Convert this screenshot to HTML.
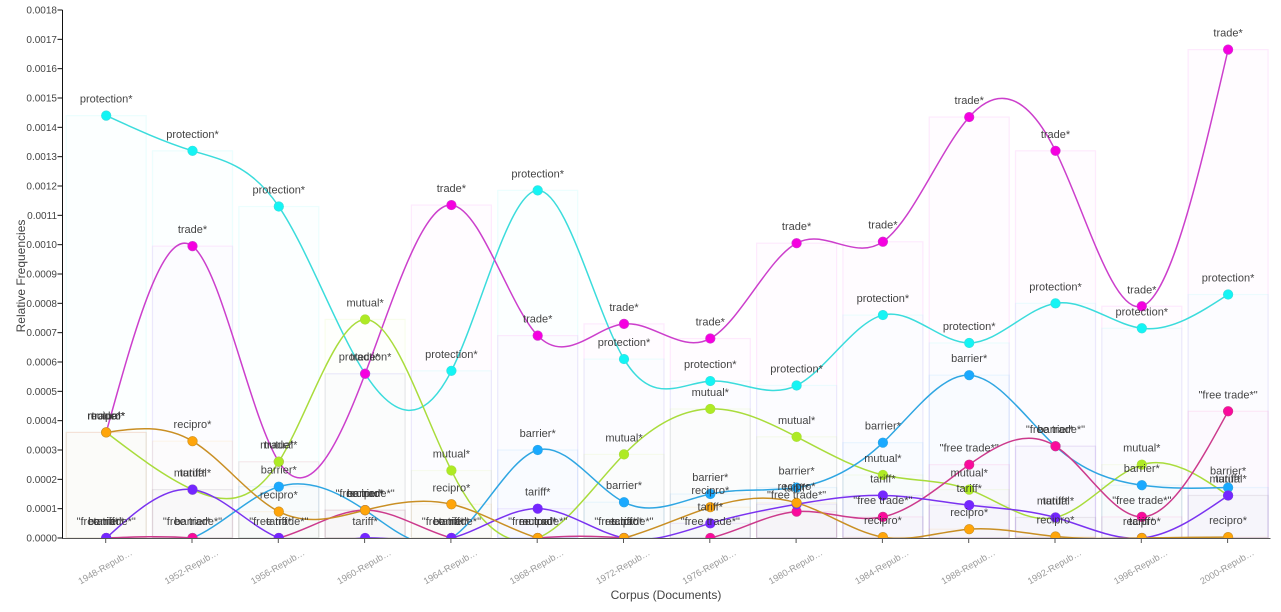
<!DOCTYPE html>
<html>
<head>
<meta charset="utf-8">
<title>Relative Frequencies by Corpus</title>
<style>
html,body{margin:0;padding:0;background:#fff;width:1281px;height:612px;overflow:hidden}
svg{display:block;font-family:"Liberation Sans",sans-serif}
</style>
</head>
<body>
<svg id="chart" width="1281" height="612" viewBox="0 0 1281 612" xmlns="http://www.w3.org/2000/svg">
<defs><clipPath id="plot-clip"><rect x="62" y="0" width="1209" height="538"></rect></clipPath></defs>
<g id="bars" clip-path="url(#plot-clip)"></g>
<g id="lines" clip-path="url(#plot-clip)"></g>
<g id="dots" clip-path="url(#plot-clip)"></g>
<g id="labels"></g>
<g id="axes"></g>
<text x="666" y="599" text-anchor="middle" font-size="12" fill="#444">Corpus (Documents)</text>
<text transform="translate(25,276) rotate(-90)" text-anchor="middle" font-size="12" fill="#444">Relative Frequencies</text>
</svg>
<script>
const categories = ['1948-Repub…','1952-Repub…','1956-Repub…','1960-Repub…','1964-Repub…','1968-Repub…','1972-Repub…','1976-Repub…','1980-Repub…','1984-Repub…','1988-Repub…','1992-Repub…','1996-Repub…','2000-Repub…'];
const yTicks = [0,0.0001,0.0002,0.0003,0.0004,0.0005,0.0006,0.0007,0.0008,0.0009,0.001,0.0011,0.0012,0.0013,0.0014,0.0015,0.0016,0.0017,0.0018];
const protectionValues = [0.00144,0.00132,0.00113,0.00056,0.00057,0.001185,0.00061,0.000535,0.00052,0.00076,0.000665,0.0008,0.000715,0.00083];
const tradeValues = [0.00036,0.000995,0.00026,0.00056,0.001135,0.00069,0.00073,0.00068,0.001005,0.00101,0.001435,0.00132,0.00079,0.001665];
const mutualValues = [0.00036,0.000165,0.00026,0.000745,0.00023,0,0.000285,0.00044,0.000345,0.000215,0.000165,0.00007,0.00025,0.000145];
const barrierValues = [0,0,0.000175,0.000095,0,0.0003,0.000122,0.00015,0.000172,0.000325,0.000555,0.000313,0.00018,0.000172];
const freeTradeValues = [0,0,0,0.000095,0,0,0,0,0.00009,0.000072,0.00025,0.000313,0.000072,0.000432];
const tariffValues = [0,0.000165,0,0,0,0.0001,0,0.00005,0.000115,0.000145,0.000112,0.00007,0,0.000145];
const reciproValues = [0.00036,0.00033,0.00009,0.000095,0.000115,0,0,0.000105,0.00012,0.000003,0.00003,0.000005,0,0.000003];

const seriesList = [
  {key:'protection', label:'protection*', values:protectionValues, dot:'#14f4f4', line:'#3bdcdc'},
  {key:'trade', label:'trade*', values:tradeValues, dot:'#f500e0', line:'#cc3fcc'},
  {key:'mutual', label:'mutual*', values:mutualValues, dot:'#aeea24', line:'#a9dc3c'},
  {key:'barrier', label:'barrier*', values:barrierValues, dot:'#1aa9ff', line:'#2fa6e2'},
  {key:'free-trade', label:'"free trade*"', values:freeTradeValues, dot:'#fa0a9c', line:'#cc3a8c'},
  {key:'tariff', label:'tariff*', values:tariffValues, dot:'#7426ff', line:'#7a33f0'},
  {key:'recipro', label:'recipro*', values:reciproValues, dot:'#ffa50a', line:'#c98f24'}
];

const NS = 'http://www.w3.org/2000/svg';
const x0 = 106.2, step = 86.3, barW = 80;
const yBase = 538, yTop = 10, yMax = 0.0018;
function xScale(i){ return x0 + i * step; }
function yScale(v){ return yBase - (v / yMax) * (yBase - yTop); }
function mk(tag, attrs, parent){
  const el = document.createElementNS(NS, tag);
  for (const k in attrs) el.setAttribute(k, attrs[k]);
  parent.appendChild(el);
  return el;
}
function naturalControls(p){
  const n = p.length - 1, a = new Array(n), b = new Array(n), r = new Array(n);
  a[0] = 0; b[0] = 2; r[0] = p[0] + 2 * p[1];
  for (let i = 1; i < n - 1; i++){ a[i] = 1; b[i] = 4; r[i] = 4 * p[i] + 2 * p[i + 1]; }
  a[n - 1] = 2; b[n - 1] = 7; r[n - 1] = 8 * p[n - 1] + p[n];
  for (let i = 1; i < n; i++){
    const m = a[i] / b[i - 1];
    b[i] -= m;
    r[i] -= m * r[i - 1];
  }
  a[n - 1] = r[n - 1] / b[n - 1];
  for (let i = n - 2; i >= 0; i--) a[i] = (r[i] - a[i + 1]) / b[i];
  const c = new Array(n);
  c[n - 1] = (p[n] + a[n - 1]) / 2;
  for (let i = 0; i < n - 1; i++) c[i] = 2 * p[i + 1] - a[i + 1];
  return [a, c];
}
function splinePath(xs, ys){
  const [xa, xb] = naturalControls(xs);
  const [ya, yb] = naturalControls(ys);
  let d = 'M' + xs[0].toFixed(2) + ',' + ys[0].toFixed(2);
  for (let i = 0; i < xs.length - 1; i++){
    d += 'C' + xa[i].toFixed(2) + ',' + ya[i].toFixed(2) + ' ' + xb[i].toFixed(2) + ',' + yb[i].toFixed(2) + ' ' + xs[i + 1].toFixed(2) + ',' + ys[i + 1].toFixed(2);
  }
  return d;
}

const barsG = document.getElementById('bars');
const linesG = document.getElementById('lines');
const dotsG = document.getElementById('dots');
const labelsG = document.getElementById('labels');
const axesG = document.getElementById('axes');

seriesList.forEach(function(s){
  const xs = s.values.map(function(v, i){ return xScale(i); });
  const ys = s.values.map(function(v){ return yScale(v); });
  s.values.forEach(function(v, i){
    const bar = mk('rect', {x: xScale(i) - barW / 2, y: yScale(v), width: barW, height: yBase - yScale(v), fill: s.dot, 'fill-opacity': 0.01, stroke: s.dot, 'stroke-opacity': 0.08, 'stroke-width': 1.2}, barsG);
    
    
  });
  const line = mk('path', {d: splinePath(xs, ys), fill: 'none', stroke: s.line, 'stroke-width': 1.5}, linesG);
  
  
  s.values.forEach(function(v, i){
    const dot = mk('circle', {cx: xScale(i), cy: yScale(v), r: 4.8, fill: s.dot, stroke: s.line, 'stroke-width': 0.6}, dotsG);
    
    
    const txt = mk('text', {x: xScale(i), y: yScale(v) - 13, 'text-anchor': 'middle', 'font-size': 11, fill: '#333', 'fill-opacity': 0.92}, labelsG);
    txt.textContent = s.label;
    
    
  });
});

const yAxis = mk('line', {x1: 62.5, x2: 62.5, y1: yTop, y2: yBase, stroke: '#111', 'stroke-width': 1}, axesG);


const xAxis = mk('line', {x1: 62, x2: 1270.5, y1: 538.5, y2: 538.5, stroke: '#555', 'stroke-width': 1}, axesG);



yTicks.forEach(function(t){
  const y = yScale(t);
  const tick = mk('line', {x1: 57.5, x2: 62.5, y1: y, y2: y, stroke: '#111', 'stroke-width': 1}, axesG);
  
  
  const lab = mk('text', {x: 57, y: y + 3.5, 'text-anchor': 'end', 'font-size': 10, fill: '#444'}, axesG);
  lab.textContent = t.toFixed(4);
  
  
});
categories.forEach(function(c, i){
  const x = xScale(i) - 0.5;
  const tick = mk('line', {x1: x, x2: x, y1: 538, y2: 543, stroke: '#555', 'stroke-width': 1}, axesG);
  
  
  const lab = mk('text', {transform: 'translate(' + (x + 1) + ',569.5) rotate(-30)', 'text-anchor': 'middle', 'font-size': 9.3, fill: '#999'}, axesG);
  lab.textContent = c;
  
  
});
</script>
</body>
</html>
